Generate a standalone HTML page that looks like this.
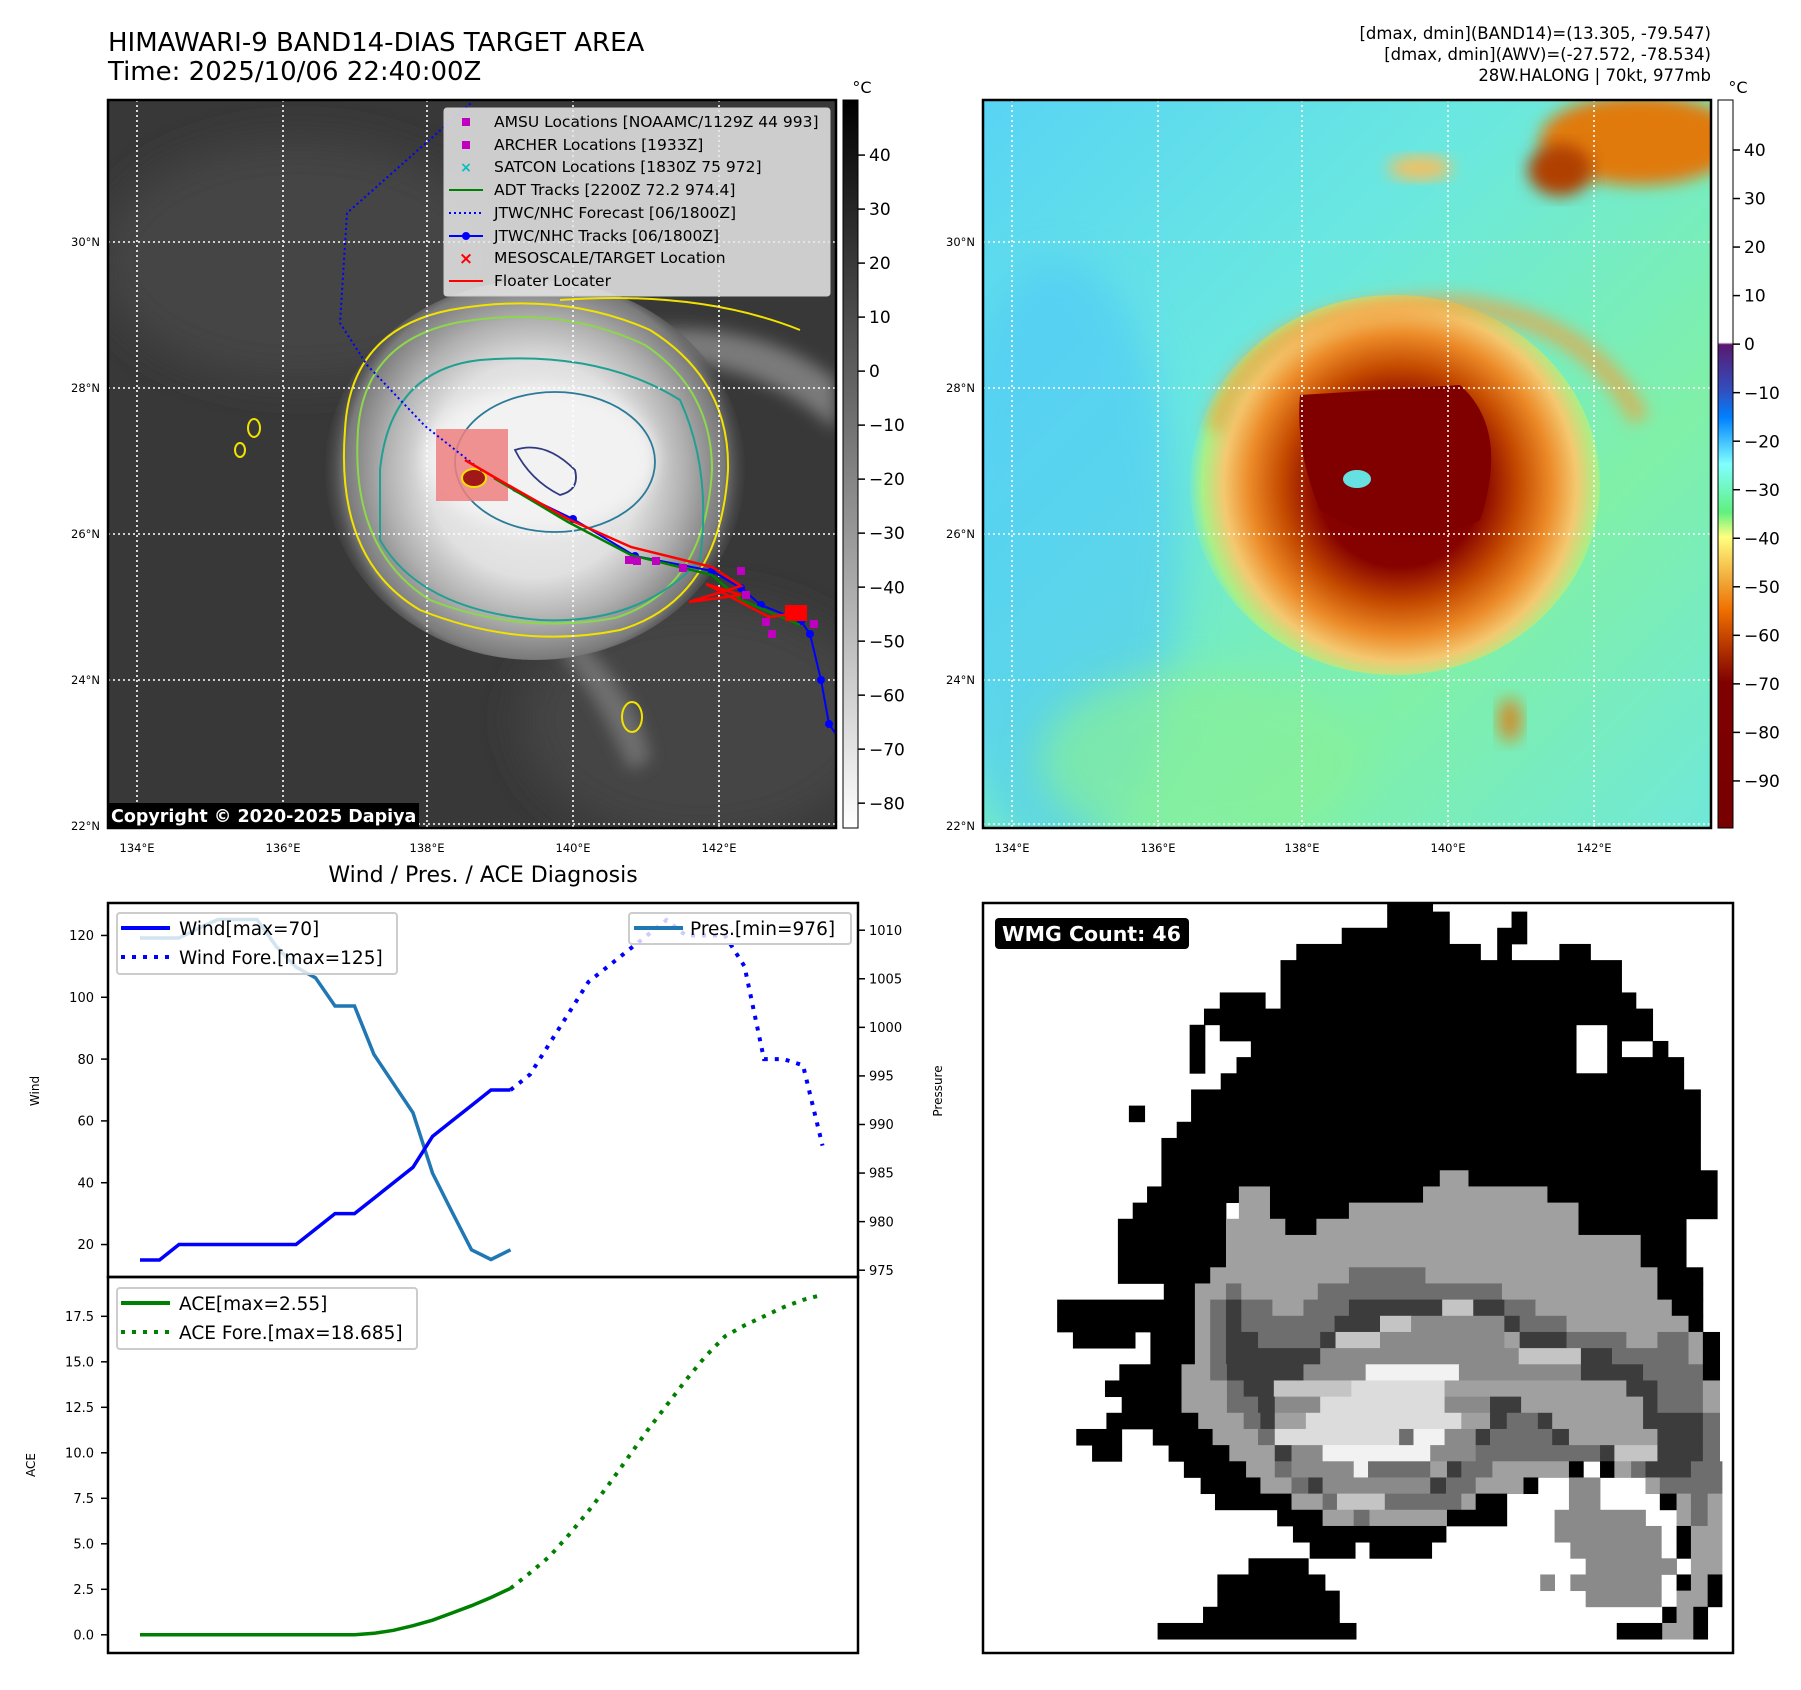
<!DOCTYPE html>
<html><head><meta charset="utf-8"><style>
html,body{margin:0;padding:0;background:#fff;}
svg{display:block;font-family:"DejaVu Sans","Liberation Sans",sans-serif;}
</style></head><body>
<svg id="fig" width="1801" height="1690" viewBox="0 0 1801 1690" xmlns="http://www.w3.org/2000/svg">
<defs>
  <filter id="blur8" x="-20%" y="-20%" width="140%" height="140%"><feGaussianBlur stdDeviation="8"/></filter>
  <filter id="blur20" x="-30%" y="-30%" width="160%" height="160%"><feGaussianBlur stdDeviation="20"/></filter>
  <clipPath id="clipL"><rect x="108" y="100" width="728" height="728"/></clipPath>
  <clipPath id="clipR"><rect x="983" y="100" width="728" height="728"/></clipPath>
  <clipPath id="clipW"><rect x="983" y="903" width="750" height="750"/></clipPath>
  <radialGradient id="gCloud" cx="535" cy="470" r="215" gradientUnits="userSpaceOnUse">
    <stop offset="0" stop-color="#f2f2f2"/><stop offset="0.5" stop-color="#e0e0e0"/>
    <stop offset="0.7" stop-color="#b0b0b0"/><stop offset="0.88" stop-color="#7a7a7a"/>
    <stop offset="1" stop-color="#3a3a3a" stop-opacity="0"/>
  </radialGradient>
  <linearGradient id="gBgR" x1="0" y1="0" x2="1" y2="1">
    <stop offset="0" stop-color="#58d4f4"/><stop offset="0.35" stop-color="#6ae8e0"/>
    <stop offset="0.7" stop-color="#80f0a8"/><stop offset="1" stop-color="#70e8d8"/>
  </linearGradient>
  <radialGradient id="gStorm" cx="1400" cy="485" r="215" gradientUnits="userSpaceOnUse">
    <stop offset="0" stop-color="#800000"/><stop offset="0.38" stop-color="#860200"/>
    <stop offset="0.55" stop-color="#c44a00"/><stop offset="0.7" stop-color="#ec8a28"/>
    <stop offset="0.82" stop-color="#f4c870"/><stop offset="0.92" stop-color="#a8f088"/>
    <stop offset="1" stop-color="#80f0b0" stop-opacity="0"/>
  </radialGradient>
  <linearGradient id="gCbL" x1="0" y1="0" x2="0" y2="1">
    <stop offset="0" stop-color="#000"/><stop offset="1" stop-color="#fff"/>
  </linearGradient>
  <linearGradient id="gCbR" x1="0" y1="0" x2="0" y2="1">
    <stop offset="0" stop-color="#fff"/><stop offset="0.333" stop-color="#fff"/>
    <stop offset="0.336" stop-color="#5a1870"/><stop offset="0.4" stop-color="#3050c0"/>
    <stop offset="0.436" stop-color="#0080ff"/><stop offset="0.5" stop-color="#80ffff"/>
    <stop offset="0.566" stop-color="#60f080"/><stop offset="0.6" stop-color="#ffff80"/>
    <stop offset="0.666" stop-color="#f0a030"/><stop offset="0.7" stop-color="#f07000"/>
    <stop offset="0.77" stop-color="#a02000"/><stop offset="0.8" stop-color="#800000"/>
    <stop offset="1" stop-color="#780000"/>
  </linearGradient>
</defs>

<!-- Titles -->
<text x="108" y="51" font-size="26">HIMAWARI-9 BAND14-DIAS TARGET AREA</text>
<text x="108" y="80" font-size="26">Time: 2025/10/06 22:40:00Z</text>
<g font-size="16.5" text-anchor="end">
  <text x="1711" y="39">[dmax, dmin](BAND14)=(13.305, -79.547)</text>
  <text x="1711" y="60">[dmax, dmin](AWV)=(-27.572, -78.534)</text>
  <text x="1711" y="81">28W.HALONG | 70kt, 977mb</text>
</g>

<!-- LEFT MAP -->
<g clip-path="url(#clipL)">
  <rect x="108" y="100" width="728" height="728" fill="#383838"/>
  <ellipse cx="300" cy="260" rx="200" ry="120" fill="#444" filter="url(#blur20)"/>
  <ellipse cx="700" cy="720" rx="180" ry="120" fill="#454545" filter="url(#blur20)"/>
  <path d="M640 330 Q760 320 836 380 L836 430 Q760 360 650 360 Z" fill="#7a7a7a" filter="url(#blur8)"/>
  <path d="M580 640 Q640 700 650 760 L630 770 Q600 700 560 650 Z" fill="#707070" filter="url(#blur8)"/>
  <ellipse cx="535" cy="470" rx="210" ry="190" fill="url(#gCloud)"/>
  <ellipse cx="540" cy="458" rx="115" ry="72" fill="#f2f2f2" filter="url(#blur8)"/>
  <path d="M345 430 Q350 330 450 310 Q560 290 650 330 Q730 380 728 470 Q720 600 620 630 Q520 650 420 610 Q335 560 345 430 Z" fill="none" stroke="#f2e200" stroke-width="2"/>
  <path d="M560 300 Q700 290 800 330" fill="none" stroke="#f2e200" stroke-width="2"/>
  <path d="M358 430 Q365 340 460 322 Q560 305 645 345 Q712 390 712 470 Q705 590 615 618 Q520 635 430 600 Q350 550 358 430 Z" fill="none" stroke="#8cd84a" stroke-width="2"/>
  <path d="M380 470 Q390 370 480 360 Q600 350 680 400 Q712 470 700 560 Q640 625 540 620 Q420 610 380 540 Z" fill="none" stroke="#20a090" stroke-width="2"/>
  <ellipse cx="555" cy="462" rx="100" ry="70" fill="none" stroke="#2a7a98" stroke-width="1.8"/>
  <path d="M515 450 Q545 440 575 470 Q580 490 560 495 Q530 480 515 450 Z" fill="none" stroke="#303a80" stroke-width="1.8"/>
  <ellipse cx="254" cy="428" rx="6" ry="9" fill="none" stroke="#f2e200" stroke-width="2"/>
  <ellipse cx="240" cy="450" rx="5" ry="7" fill="none" stroke="#f2e200" stroke-width="2"/>
  <ellipse cx="632" cy="717" rx="10" ry="15" fill="none" stroke="#f2e200" stroke-width="2"/>
  <g stroke="#fff" stroke-width="1.6" stroke-dasharray="2,3">
    <line x1="137" y1="100" x2="137" y2="828"/><line x1="283" y1="100" x2="283" y2="828"/>
    <line x1="427" y1="100" x2="427" y2="828"/><line x1="573" y1="100" x2="573" y2="828"/>
    <line x1="719" y1="100" x2="719" y2="828"/>
    <line x1="108" y1="242" x2="836" y2="242"/><line x1="108" y1="388" x2="836" y2="388"/>
    <line x1="108" y1="534" x2="836" y2="534"/><line x1="108" y1="680" x2="836" y2="680"/>
    <line x1="108" y1="824" x2="836" y2="824"/>
  </g>
  <rect x="436" y="429" width="72" height="72" fill="#f08080" opacity="0.85"/>
  <ellipse cx="474" cy="478" rx="12" ry="9" fill="#a01818" stroke="#f2e200" stroke-width="2"/>
  <polyline points="482,471 425,426 367,365 340,323 347,213 471,103" fill="none" stroke="#0000ff" stroke-width="2" stroke-dasharray="2,3"/>
  <polyline points="513,490 573,519 635,556 712,571 741,588 761,605 801,621 810,634 821,680 829,724 840,740" fill="none" stroke="#0000ff" stroke-width="2"/>
  <g fill="#0000ff"><circle cx="573" cy="519" r="4"/><circle cx="635" cy="556" r="4"/><circle cx="712" cy="571" r="4"/><circle cx="741" cy="588" r="4"/><circle cx="761" cy="605" r="4"/><circle cx="801" cy="621" r="4"/><circle cx="810" cy="634" r="4"/><circle cx="821" cy="680" r="4"/><circle cx="829" cy="724" r="4"/></g>
  <polyline points="494,478 568,522 631,555 712,575 741,600 800,625" fill="none" stroke="#008000" stroke-width="2.5"/>
  <g fill="#c000c0"><rect x="625" y="556" width="8" height="8"/><rect x="633" y="557" width="8" height="8"/><rect x="652" y="557" width="8" height="8"/><rect x="679" y="564" width="8" height="8"/><rect x="737" y="567" width="8" height="8"/><rect x="742" y="591" width="8" height="8"/><rect x="762" y="618" width="8" height="8"/><rect x="768" y="630" width="8" height="8"/><rect x="810" y="620" width="8" height="8"/></g>
  <polyline points="465,460 494,477 568,519 631,547 712,567 741,586 689,602 741,595 706,584 769,617 804,612" fill="none" stroke="#ff0000" stroke-width="2.5"/>
  <rect x="785" y="605" width="22" height="16" fill="#ff0000"/>
</g>
<rect x="108" y="100" width="728" height="728" fill="none" stroke="#000" stroke-width="2.5"/>
<g font-size="15.5">
  <rect x="444" y="108" width="386" height="188" rx="3" fill="#e8e8e8" fill-opacity="0.85" stroke="#ccc"/>
  <rect x="462" y="118" width="8" height="8" fill="#c000c0"/><text x="494" y="127">AMSU Locations [NOAAMC/1129Z 44 993]</text>
  <rect x="462" y="141" width="8" height="8" fill="#c000c0"/><text x="494" y="150">ARCHER Locations [1933Z]</text>
  <text x="466" y="172" fill="#00c0c0" font-size="14" text-anchor="middle" font-weight="bold">×</text><text x="494" y="172">SATCON Locations [1830Z 75 972]</text>
  <line x1="449" y1="190" x2="483" y2="190" stroke="#008000" stroke-width="2"/><text x="494" y="195">ADT Tracks [2200Z 72.2 974.4]</text>
  <line x1="449" y1="213" x2="483" y2="213" stroke="#0000ff" stroke-width="2" stroke-dasharray="2,3"/><text x="494" y="218">JTWC/NHC Forecast [06/1800Z]</text>
  <line x1="449" y1="236" x2="483" y2="236" stroke="#0000ff" stroke-width="2"/><circle cx="466" cy="236" r="4" fill="#0000ff"/><text x="494" y="241">JTWC/NHC Tracks [06/1800Z]</text>
  <text x="466" y="264" fill="#ff0000" font-size="17" text-anchor="middle" font-weight="bold">×</text><text x="494" y="263">MESOSCALE/TARGET Location</text>
  <line x1="449" y1="281" x2="483" y2="281" stroke="#ff0000" stroke-width="2"/><text x="494" y="286">Floater Locater</text>
</g>
<g>
  <rect x="108" y="803" width="311" height="25" fill="#000"/>
  <text x="111" y="822" fill="#fff" font-size="17.5" font-weight="bold">Copyright © 2020-2025 Dapiya</text>
</g>
<g font-size="11.5" text-anchor="end">
  <text x="100" y="246">30°N</text><text x="100" y="392">28°N</text><text x="100" y="538">26°N</text><text x="100" y="684">24°N</text><text x="100" y="830">22°N</text>
</g>
<g font-size="11.5" text-anchor="middle">
  <text x="137" y="852">134°E</text><text x="283" y="852">136°E</text><text x="427" y="852">138°E</text><text x="573" y="852">140°E</text><text x="719" y="852">142°E</text>
</g>
<g>
  <rect x="843" y="100" width="15" height="728" fill="url(#gCbL)" stroke="#000" stroke-width="1"/>
  <text x="862" y="93" font-size="16" text-anchor="middle">°C</text>
  <g id="cbLticks"></g>
</g>

<!-- RIGHT MAP -->
<g clip-path="url(#clipR)">
  <rect x="983" y="100" width="728" height="728" fill="url(#gBgR)"/>
  <ellipse cx="1060" cy="560" rx="120" ry="300" fill="#50c8f8" opacity="0.6" filter="url(#blur20)"/>
  <ellipse cx="1200" cy="760" rx="160" ry="90" fill="#88f098" opacity="0.7" filter="url(#blur20)"/>
  <ellipse cx="1640" cy="140" rx="100" ry="45" fill="#e07a10" filter="url(#blur8)"/>
  <ellipse cx="1560" cy="170" rx="32" ry="26" fill="#b04000" filter="url(#blur8)"/>
  <ellipse cx="1420" cy="168" rx="32" ry="12" fill="#f6c060" filter="url(#blur8)"/>
  <ellipse cx="1395" cy="485" rx="205" ry="190" fill="url(#gStorm)"/>
  <path d="M1215 430 Q1250 300 1460 305 Q1590 320 1640 420" fill="none" stroke="#f0a040" stroke-width="20" opacity="0.7" filter="url(#blur8)"/>
  <path d="M1300 395 L1460 385 Q1510 430 1480 520 Q1400 560 1320 510 Q1295 450 1300 395 Z" fill="#800000"/>
  <ellipse cx="1357" cy="479" rx="14" ry="9" fill="#66e0e0"/>
  <ellipse cx="1510" cy="720" rx="12" ry="22" fill="#e07a10" filter="url(#blur8)" opacity="0.8"/>
  <g stroke="#fff" stroke-width="1.6" stroke-dasharray="2,3">
    <line x1="1012" y1="100" x2="1012" y2="828"/><line x1="1158" y1="100" x2="1158" y2="828"/>
    <line x1="1302" y1="100" x2="1302" y2="828"/><line x1="1448" y1="100" x2="1448" y2="828"/>
    <line x1="1594" y1="100" x2="1594" y2="828"/>
    <line x1="983" y1="242" x2="1711" y2="242"/><line x1="983" y1="388" x2="1711" y2="388"/>
    <line x1="983" y1="534" x2="1711" y2="534"/><line x1="983" y1="680" x2="1711" y2="680"/>
    <line x1="983" y1="824" x2="1711" y2="824"/>
  </g>
</g>
<rect x="983" y="100" width="728" height="728" fill="none" stroke="#000" stroke-width="2.5"/>
<g font-size="11.5" text-anchor="end">
  <text x="975" y="246">30°N</text><text x="975" y="392">28°N</text><text x="975" y="538">26°N</text><text x="975" y="684">24°N</text><text x="975" y="830">22°N</text>
</g>
<g font-size="11.5" text-anchor="middle">
  <text x="1012" y="852">134°E</text><text x="1158" y="852">136°E</text><text x="1302" y="852">138°E</text><text x="1448" y="852">140°E</text><text x="1594" y="852">142°E</text>
</g>
<g>
  <rect x="1718" y="100" width="15" height="728" fill="url(#gCbR)" stroke="#000" stroke-width="1"/>
  <text x="1738" y="93" font-size="16" text-anchor="middle">°C</text>
  <g id="cbRticks"></g>
</g>

<!-- BOTTOM LEFT CHART -->
<text x="483" y="882" font-size="22" text-anchor="middle">Wind / Pres. / ACE Diagnosis</text>
<g id="diag"></g>
<rect x="108" y="903" width="750" height="374" fill="none" stroke="#000" stroke-width="2.5"/>
<rect x="108" y="1277" width="750" height="376" fill="none" stroke="#000" stroke-width="2.5"/>
<text font-size="12" transform="translate(39,1091) rotate(-90)" text-anchor="middle">Wind</text>
<text font-size="12" transform="translate(942,1091) rotate(-90)" text-anchor="middle">Pressure</text>
<text font-size="12" transform="translate(35,1465) rotate(-90)" text-anchor="middle">ACE</text>
<g font-size="18.5">
  <rect x="117" y="913" width="280" height="61" rx="3" fill="#fff" fill-opacity="0.8" stroke="#ccc" stroke-width="2"/>
  <line x1="121" y1="928" x2="170" y2="928" stroke="#0000ff" stroke-width="4"/><text x="179" y="935">Wind[max=70]</text>
  <line x1="121" y1="957" x2="170" y2="957" stroke="#0000ff" stroke-width="4" stroke-dasharray="4,7"/><text x="179" y="964">Wind Fore.[max=125]</text>
</g>
<g font-size="18.5">
  <rect x="629" y="913" width="222" height="31" rx="3" fill="#fff" fill-opacity="0.8" stroke="#ccc" stroke-width="2"/>
  <line x1="634" y1="928" x2="683" y2="928" stroke="#1f77b4" stroke-width="4"/><text x="690" y="935">Pres.[min=976]</text>
</g>
<g font-size="18.5">
  <rect x="117" y="1288" width="300" height="61" rx="3" fill="#fff" fill-opacity="0.8" stroke="#ccc" stroke-width="2"/>
  <line x1="121" y1="1303" x2="170" y2="1303" stroke="#008000" stroke-width="4"/><text x="179" y="1310">ACE[max=2.55]</text>
  <line x1="121" y1="1332" x2="170" y2="1332" stroke="#008000" stroke-width="4" stroke-dasharray="4,7"/><text x="179" y="1339">ACE Fore.[max=18.685]</text>
</g>

<!-- BOTTOM RIGHT WMG -->
<g id="wmg" clip-path="url(#clipW)"></g>
<rect x="983" y="903" width="750" height="750" fill="none" stroke="#000" stroke-width="2.5"/>
<g>
  <rect x="995" y="918" width="194" height="31" rx="4" fill="#000"/>
  <text x="1002" y="941" fill="#fff" font-size="20.5" font-weight="bold">WMG Count: 46</text>
</g>

<script>
var windObs = [15,15,20,20,20,20,20,20,20,25,30,30,35,40,45,55,60,65,70,70];
var windFore = [70,75,85,95,105,110,115,120,125,120,120,120,110,80,80,78,52];
var presObs = [1009.2,1009.2,1009.2,1010.2,1011.1,1011.1,1011.1,1008.3,1006.2,1005.1,1002.2,1002.2,997.2,994.2,991.2,985,981,977.1,976.1,977.1];
var aceObs = [0,0,0,0,0,0,0,0,0,0,0,0,0.08,0.25,0.5,0.8,1.2,1.6,2.05,2.55];
var aceFore = [2.55,3.4,4.3,5.5,6.8,8.2,9.7,11.2,12.6,14.0,15.3,16.4,17.0,17.5,18.0,18.4,18.685];
var windTicks = [20,40,60,80,100,120];
var presTicks = [975,980,985,990,995,1000,1005,1010];
var aceTicks = [0,2.5,5,7.5,10,12.5,15,17.5];
var cbLTicks = [40,30,20,10,0,-10,-20,-30,-40,-50,-60,-70,-80];
var cbRTicks = [40,30,20,10,0,-10,-20,-30,-40,-50,-60,-70,-80,-90];

var NS = 'http://www.w3.org/2000/svg';
function X(i){ return 140 + i*19.5; }
function yW(v){ return 903 + (130.5 - v)/121*374; }
function yP(p){ return 903 + (1012.8 - p)/38.5*374; }
function yA(a){ return 1277 + (19.66 - a)/20.66*376; }
function yCL(v){ return 100 + (50.2 - v)/134.8*728; }
function yCR(v){ return 100 + (50.3 - v)/150*728; }

function mk(tag, parent){ var e=document.createElementNS(NS,tag); parent.appendChild(e); return e; }
function poly(parent, vals, off, yf, color, dashed, name){
  var p = mk('polyline', parent);
  
  
  var pts = vals.map(function(v,k){ return X(off+k).toFixed(1)+','+yf(v).toFixed(1); }).join(' ');
  p.setAttribute('points', pts);
  p.setAttribute('fill','none'); p.setAttribute('stroke',color);
  p.setAttribute('stroke-width', dashed ? '4' : '3.5');
  if (dashed) p.setAttribute('stroke-dasharray','4,7');
}
var diag = document.getElementById('diag');
poly(diag, presObs, 0, yP, '#1f77b4', false, 'pressure-line');
poly(diag, windObs, 0, yW, '#0000ff', false, 'wind-line');
poly(diag, windFore, 19, yW, '#0000ff', true, 'wind-forecast-line');
poly(diag, aceObs, 0, yA, '#008000', false, 'ace-line');
poly(diag, aceFore, 19, yA, '#008000', true, 'ace-forecast-line');

function ticks(parent, arr, yf, xAxis, side, fmt, name, fs){
  arr.forEach(function(v){
    var y = yf(v);
    var l = mk('line', parent);
    
    
    var x2 = side==='left' ? xAxis-7 : xAxis+7;
    l.setAttribute('x1',xAxis); l.setAttribute('x2',x2); l.setAttribute('y1',y); l.setAttribute('y2',y);
    l.setAttribute('stroke','#000'); l.setAttribute('stroke-width','1.5');
    var t = mk('text', parent);
    
    
    t.setAttribute('x', side==='left' ? xAxis-14 : xAxis+11);
    t.setAttribute('y', y + fs*0.36);
    t.setAttribute('font-size', fs);
    if (side==='left') t.setAttribute('text-anchor','end');
    t.textContent = fmt(v);
  });
}
var minus = function(v){ return v<0 ? '\u2212'+(-v) : ''+v; };
var tg = mk('g', diag);
ticks(tg, windTicks, yW, 108, 'left', function(v){return ''+v;}, 'wind-axis', 13);
ticks(tg, presTicks, yP, 858, 'right', function(v){return ''+v;}, 'pressure-axis', 13);
ticks(tg, aceTicks, yA, 108, 'left', function(v){return v.toFixed(1);}, 'ace-axis', 13);
ticks(document.getElementById('cbLticks'), cbLTicks, yCL, 858, 'right', minus, 'left-colorbar', 17);
ticks(document.getElementById('cbRticks'), cbRTicks, yCR, 1733, 'right', minus, 'right-colorbar', 17);

var wmgLevels = {K:'#000000','1':'#3c3c3c','2':'#6e6e6e','3':'#8a8a8a','4':'#a0a0a0','5':'#c4c4c4','6':'#dcdcdc','7':'#f2f2f2',W:'#ffffff'};
var wmgRows = [
"845-940:K",
"845-975:K 1105-1137:K",
"750-975:K 1075-1137:K",
"655-1040:K 1075-1105:K 1205-1270:K",
"622-1335:K",
"622-1335:K",
"495-590:K 622-1365:K",
"462-1400:K",
"432-464:K 495-1240:K 1305-1400:K",
"432-464:K 560-1240:K 1305-1335:K 1400-1432:K",
"432-464:K 530-1240:K 1305-1465:K",
"497-1465:K",
"435-1500:K",
"305-338:K 435-1500:K",
"405-1500:K",
"373-1500:K",
"373-1500:K",
"373-955:K 955-1015:4 1015-1535:K",
"343-535:K 535-600:4 600-920:K 920-1180:4 1180-1535:K",
"313-508:K 535-600:4 600-765:K 765-1245:4 1245-1535:K",
"282-508:K 508-632:4 632-697:K 697-1245:4 1245-1470:K",
"282-508:K 508-1375:4 1375-1470:K",
"282-508:K 508-1375:4 1375-1470:K",
"282-475:K 475-765:4 765-925:2 925-1410:4 1410-1505:K",
"378-443:K 443-508:4 508-540:2 540-700:4 700-1085:2 1085-1410:4 1410-1505:K",
"155-443:K 443-475:4 475-508:2 508-540:1 540-605:2 605-670:4 670-765:2 765-960:1 960-1025:5 1025-1090:1 1090-1155:2 1155-1440:4 1440-1505:K",
"155-443:K 443-475:4 475-508:2 508-540:1 540-735:2 735-830:1 830-895:5 895-1090:3 1090-1122:1 1122-1220:2 1220-1475:4 1475-1505:K",
"188-318:K 350-443:K 443-475:4 475-508:2 508-575:1 575-705:2 705-737:1 737-830:5 830-1090:3 1090-1122:4 1122-1220:1 1220-1345:2 1345-1410:4 1410-1475:2 1475-1505:4 1505-1540:K",
"350-443:K 443-475:4 475-508:2 508-705:1 705-1120:3 1120-1250:5 1250-1315:1 1315-1475:2 1475-1505:4 1505-1540:K",
"285-415:K 415-475:4 475-510:2 510-670:1 670-800:3 800-995:7 995-1250:3 1250-1380:1 1380-1505:2 1505-1540:K",
"255-415:K 415-510:4 510-545:2 545-608:1 608-770:5 770-965:6 965-1345:4 1345-1410:1 1410-1505:2 1505-1540:4",
"290-415:K 415-510:4 510-575:2 575-610:1 610-705:3 705-965:6 965-1060:3 1060-1125:1 1125-1380:4 1380-1410:1 1410-1505:2 1505-1540:4",
"258-450:K 450-545:4 545-580:2 580-610:1 610-675:4 675-1000:6 1000-1060:4 1060-1095:1 1095-1160:2 1160-1190:1 1190-1380:4 1380-1505:1 1505-1540:2",
"195-290:K 355-480:K 480-575:4 575-610:2 610-870:6 870-900:2 900-965:7 965-1030:3 1030-1060:1 1060-1190:2 1190-1225:1 1225-1410:4 1410-1505:1 1505-1540:2",
"228-290:K 388-515:K 515-610:4 610-645:1 645-710:3 710-935:7 935-1030:3 1030-1290:2 1290-1320:1 1320-1410:5 1410-1505:1 1505-1540:2",
"420-550:K 550-610:4 610-645:2 645-775:3 775-805:7 805-935:2 935-970:4 970-1000:1 1000-1065:2 1065-1225:4 1225-1255:K 1290-1320:K 1320-1355:4 1355-1385:2 1385-1480:1 1480-1545:2",
"455-580:K 580-645:4 645-680:2 680-710:1 710-935:3 935-968:1 968-1030:2 1030-1130:4 1130-1160:K 1225-1290:3 1385-1415:4 1415-1545:2",
"485-645:K 645-710:4 710-740:2 740-840:5 840-1000:2 1000-1030:4 1030-1095:K 1225-1290:3 1415-1450:K 1450-1480:4 1480-1515:2 1515-1545:4",
"615-710:K 710-775:4 775-808:2 808-970:4 970-1095:K 1195-1385:3 1450-1480:4 1480-1515:2 1515-1545:4",
"648-968:K 1195-1418:3 1450-1480:K 1480-1545:4",
"683-778:K 808-938:K 1228-1418:3 1450-1480:K 1480-1545:4",
"555-680:K 1260-1450:3 1480-1545:4",
"490-715:K 1165-1195:3 1228-1418:3 1450-1480:K 1480-1515:4 1515-1545:K",
"490-745:K 1260-1418:3 1450-1515:4 1515-1545:K",
"460-745:K 1420-1450:K 1450-1485:4 1485-1515:K",
"365-780:K 1325-1420:K 1420-1485:4 1485-1515:K"
];
var wmg = document.getElementById('wmg');
var S = 750/1568, rowH = 33.8, rowOff = -15.8;
wmgRows.forEach(function(row, r){
  row.split(' ').forEach(function(run){
    var parts = run.split(':'), xs = parts[0].split('-');
    var x0 = +xs[0], x1 = +xs[1];
    var rc = mk('rect', wmg);
    
    
    rc.setAttribute('x', (983 + x0*S).toFixed(2));
    rc.setAttribute('y', (903 + (rowOff + r*rowH)*S).toFixed(2));
    rc.setAttribute('width', ((x1-x0)*S + 0.4).toFixed(2));
    rc.setAttribute('height', (rowH*S + 0.4).toFixed(2));
    rc.setAttribute('fill', wmgLevels[parts[1]]);
  });
});
</script>
</svg>
</body></html>
